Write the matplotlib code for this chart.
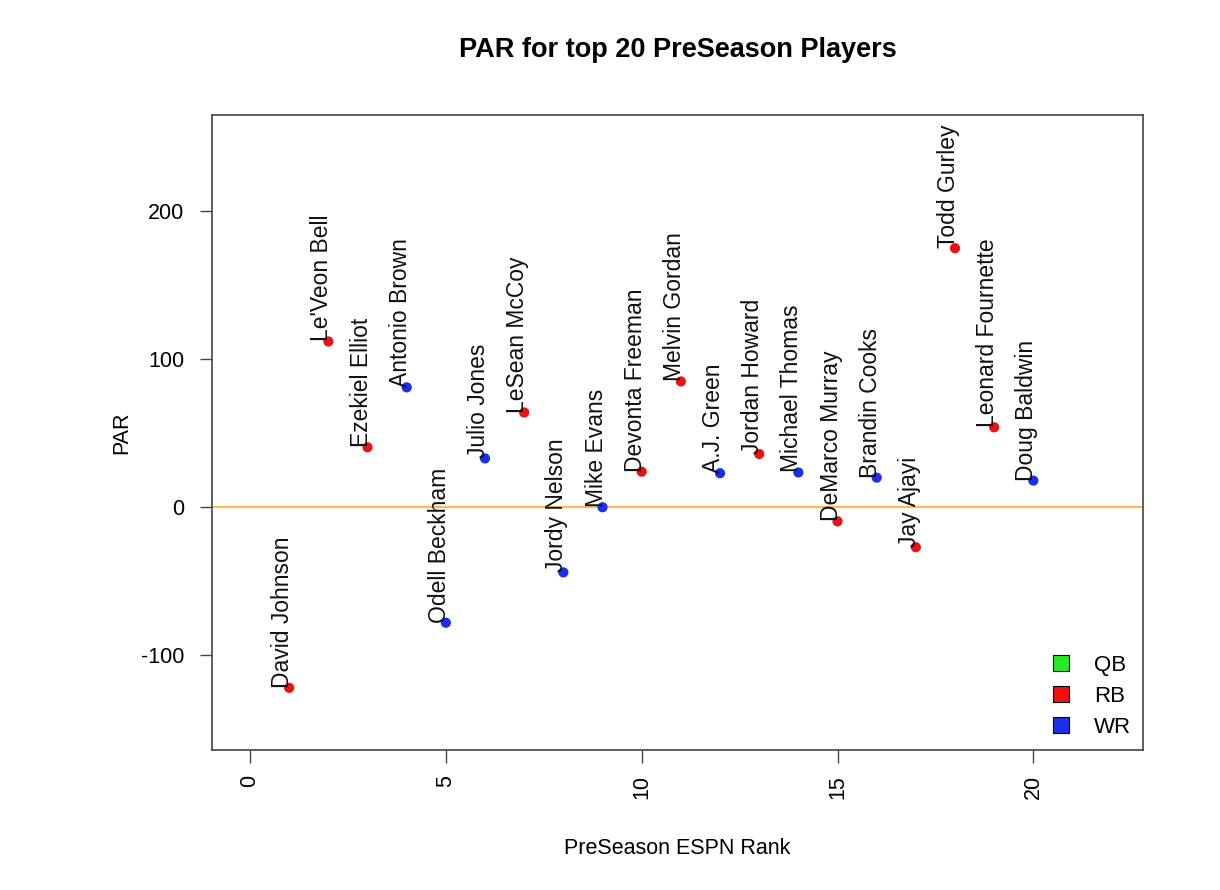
"""PAR for top 20 preseason players."""
import matplotlib
matplotlib.use('Agg')
import matplotlib.pyplot as plt
from matplotlib.patches import Patch

plt.rcParams['font.family'] = ['Liberation Sans', 'DejaVu Sans']
plt.rcParams['axes.unicode_minus'] = False

players = ['David Johnson', "Le'Veon Bell", 'Ezekiel Elliot', 'Antonio Brown',
           'Odell Beckham', 'Julio Jones', 'LeSean McCoy', 'Jordy Nelson',
           'Mike Evans', 'Devonta Freeman', 'Melvin Gordan', 'A.J. Green',
           'Jordan Howard', 'Michael Thomas', 'DeMarco Murray', 'Brandin Cooks',
           'Jay Ajayi', 'Todd Gurley', 'Leonard Fournette', 'Doug Baldwin']
rank = list(range(1, 21))
par = [-122, 112, 40.5, 81, -78, 33, 64, -44, 0, 24,
       85, 23, 36, 23.5, -9.5, 20, -27, 175, 54, 18]
pos = ['RB', 'RB', 'RB', 'WR', 'WR', 'WR', 'RB', 'WR', 'WR', 'RB',
       'RB', 'WR', 'RB', 'WR', 'RB', 'WR', 'RB', 'RB', 'RB', 'WR']
positions = ['QB', 'RB', 'WR']
colors = {'QB': '#22ee22', 'RB': '#ee1111', 'WR': '#1a2eee'}

fig = plt.figure(figsize=(12.2, 8.9), dpi=100)
ax = fig.add_axes([0.1738, 0.1573, 0.7631, 0.7135])

ax.axhline(0, color='#ffbb55', lw=1.6, zorder=1)
ax.scatter(rank, par, c=[colors[p] for p in pos], s=40, zorder=3)
for x, y, name in zip(rank, par, players):
    ax.text(x, y, name, rotation=90, rotation_mode='anchor', ha='left',
            va='baseline', fontsize=16.5, color='#111111', zorder=4)

ax.set_xlim(-0.97, 22.8)
ax.set_ylim(-164, 265)
ax.set_xticks([0, 5, 10, 15, 20])
ax.set_yticks([-100, 0, 100, 200])
ax.tick_params(length=9, width=1, color='#444444', labelsize=15.5)
ax.tick_params(axis='x', labelrotation=90, pad=9)
ax.tick_params(axis='y', pad=11)
for s in ax.spines.values():
    s.set_color('#444444')
    s.set_linewidth(1.2)

ax.set_xlabel('PreSeason ESPN Rank', fontsize=15.5, labelpad=28)
ax.set_ylabel('PAR', fontsize=15.5, labelpad=6)
ax.set_title('PAR for top 20 PreSeason Players', fontsize=19.5,
             fontweight='bold', pad=42)

handles = [Patch(facecolor=colors[p], edgecolor='black', lw=0.8) for p in positions]
ax.legend(handles, positions, loc='lower right', frameon=False, fontsize=16,
          handlelength=0.75, handleheight=0.75, handletextpad=1.1,
          labelspacing=0.45, borderaxespad=0.15)

fig.savefig('out.png', dpi=100)
